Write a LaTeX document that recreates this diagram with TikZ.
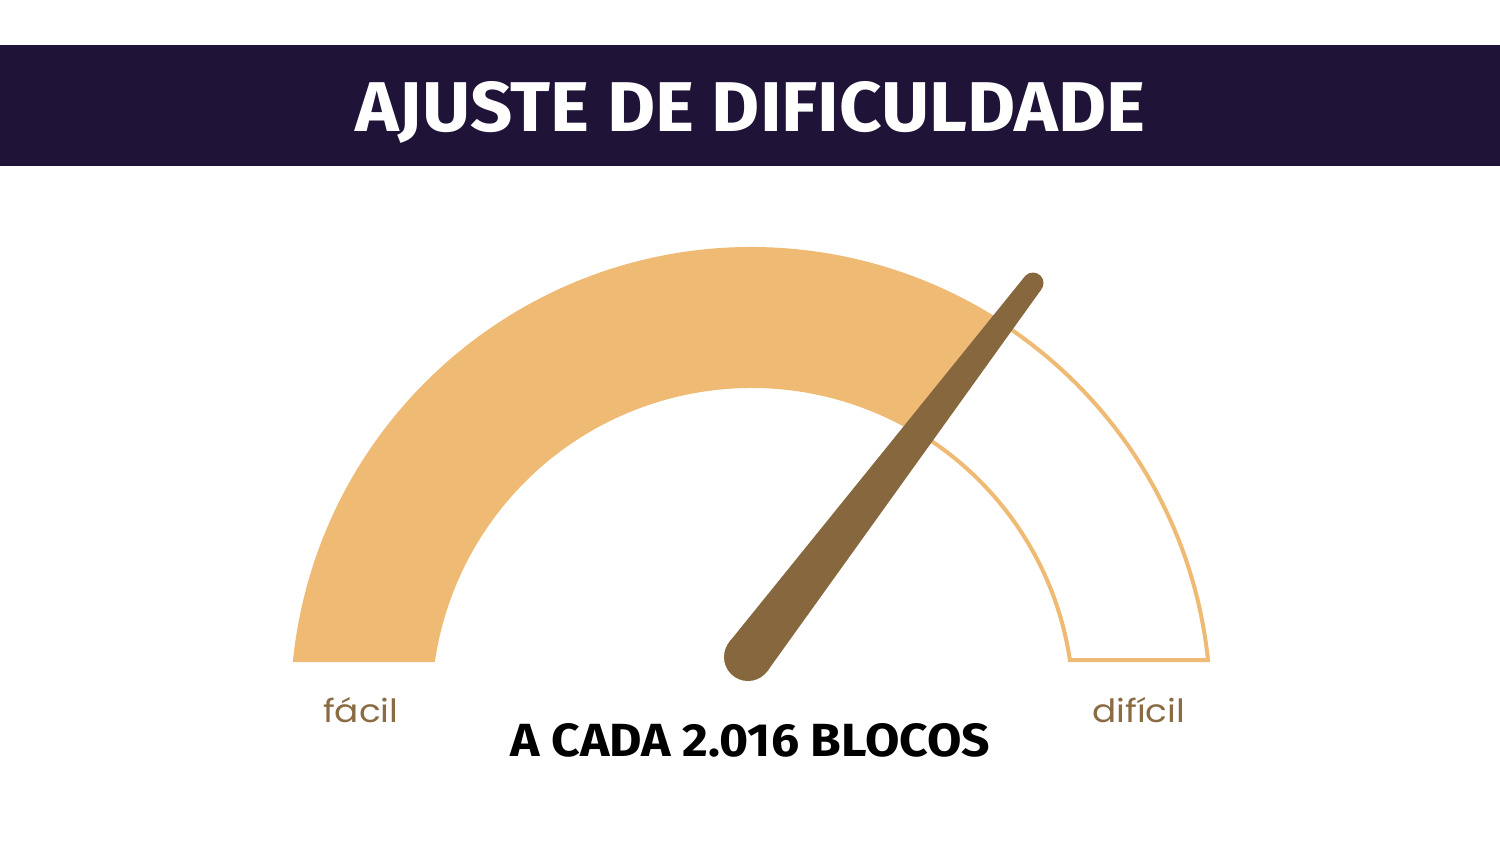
\documentclass[tikz,border=0pt]{standalone}
\usepackage{fontspec}
\usetikzlibrary{calc}
\newfontfamily\headfont{Fira Sans}
\newfontfamily\labelfont{Poppins}
\definecolor{barbg}{HTML}{1F1338}
\definecolor{gaugefill}{HTML}{EEBA74}
\definecolor{needlecol}{HTML}{86673E}
\definecolor{labelcol}{HTML}{8A6B42}
\tikzset{
  gaugepath/.style={insert path={($(C)+(-174:459)$) arc[start angle=-174,end angle=-6,radius=459]
     -- ($(C)+(-8.57:322)$) arc[start angle=-8.57,end angle=-171.43,radius=322] -- cycle}},
  gaugelabel/.style={anchor=base west, inner sep=0pt, text=labelcol, font=\labelfont\fontsize{32}{38}\selectfont},
  boldtext/.style={anchor=base west, inner sep=0pt}
}
\begin{document}
\begin{tikzpicture}[x=1pt,y=-1pt]
\useasboundingbox (0,0) rectangle (1500,844);
\fill[white] (0,0) rectangle (1500,844);
\fill[barbg] (0,45) rectangle (1500,166);
\node[boldtext, text=white] (title) at (355,131) {\resizebox{790pt}{50pt}{\headfont\bfseries AJUSTE DE DIFICULDADE}};
\coordinate (C) at (751.5,708);
\coordinate (base) at (748,657);
\coordinate (tip) at (1033,283);
\begin{scope}
  \clip (base) -- ($(base)!2!(tip)$) -- (100,-500) -- (100,700) -- (748,700) -- cycle;
  \fill[gaugefill, gaugepath];
\end{scope}
\draw[gaugefill, line width=4pt, line join=miter, gaugepath];
\coordinate (bL) at ($(base)!24pt!90:(tip)$);
\coordinate (bR) at ($(base)!24pt!-90:(tip)$);
\coordinate (tL) at ($(tip)!10.5pt!-90:(base)$);
\coordinate (tR) at ($(tip)!10.5pt!90:(base)$);
\fill[needlecol] (bL) -- (tL) -- (tR) -- (bR) -- cycle;
\fill[needlecol] (base) circle[radius=24pt];
\fill[needlecol] (tip) circle[radius=10.5pt];
\node[gaugelabel] (facil) at (323,722) {\scalebox{1.12}[1]{fácil}};
\node[gaugelabel] (dificil) at (1092,722) {\scalebox{1.12}[1]{difícil}};
\node[boldtext] (blocos) at (510,756) {\resizebox{480pt}{33pt}{\headfont\bfseries A CADA 2.016 BLOCOS}};
\end{tikzpicture}
\end{document}
